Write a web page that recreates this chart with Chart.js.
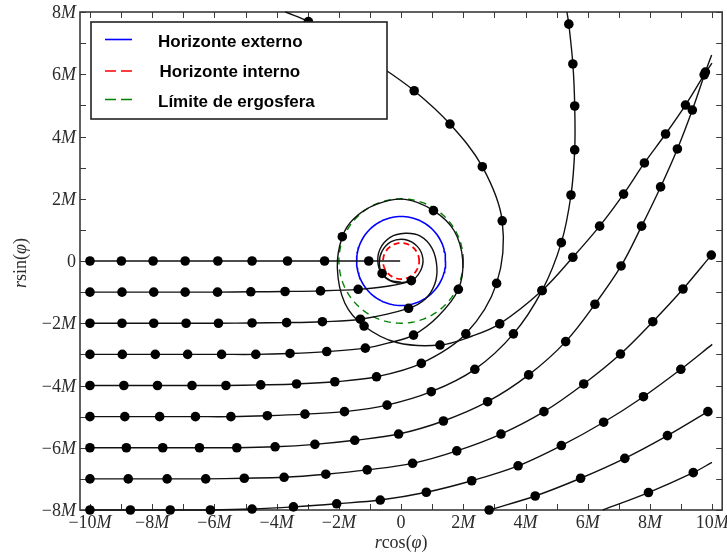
<!DOCTYPE html>
<html><head><meta charset="utf-8">
<script src="https://cdn.jsdelivr.net/npm/chart.js@4/dist/chart.umd.min.js"></script>
<style>html,body{margin:0;padding:0;background:#fff;}canvas{display:block;}</style>
</head><body>
<canvas id="c" width="727" height="555"></canvas>
<script>
// ---------- data (units of M) ----------
const legendLabels = ['Horizonte externo', 'Horizonte interno', 'Límite de ergosfera'];
const horizonRadii = [1.43, 0.58, 2.0];           // outer horizon, inner horizon, ergosphere
const xMajorTicks = [-10, -8, -6, -4, -2, 0, 2, 4, 6, 8, 10];
const yMajorTicks = [-8, -6, -4, -2, 0, 2, 4, 6, 8];
const xMinorTicks = [-10,-9,-8,-7,-6,-5,-4,-3,-2,-1,0,1,2,3,4,5,6,7,8,9,10];
const yMinorTicks = [-8,-7,-6,-5,-4,-3,-2,-1,0,1,2,3,4,5,6,7,8];
const xTitle = [['r','italic'],['cos',''],['(',''],['φ','italic'],[')','']];
const yTitle = [['r','italic'],['sin',''],['(',''],['φ','italic'],[')','']];

// ray b = 0
const ray0Dots = [[-10,0],[-8.99,0],[-7.97,0],[-6.94,0],[-5.89,0],[-4.79,0],[-3.65,0],[-2.46,0],[-1.04,0]];
const ray0Path = [[-10,0],[-8.99,0],[-7.97,0],[-6.94,0],[-5.89,0],[-4.79,0],[-3.65,0],[-2.46,0],[-1.04,0],[-0.03,0]];
// ray b = -1
const ray1Dots = [[-10,-1],[-8.97,-1],[-7.95,-1],[-6.94,-1],[-5.90,-1],[-4.83,-0.99],[-3.73,-0.98],[-2.59,-0.96],[-1.38,-0.91],[0.33,-0.63],[-0.61,-0.40]];
const ray1Path = [[-10,-1],[-8.97,-1],[-7.95,-1],[-6.94,-1],[-5.90,-1],[-4.83,-0.99],[-3.73,-0.98],[-2.59,-0.96],[-1.38,-0.91],[-0.5,-0.82],[0.33,-0.63],[0.62,-0.32],[0.70,0.08],[0.52,0.47],[0.12,0.69],[-0.32,0.62],[-0.62,0.30],[-0.70,-0.08],[-0.61,-0.40],[-0.35,-0.62],[0.0,-0.68]];
// ray b = -2
const ray2Dots = [[-10,-2],[-8.97,-2],[-7.95,-2],[-6.91,-2],[-5.87,-2],[-4.79,-1.99],[-3.68,-1.98],[-2.53,-1.95],[-1.31,-1.87],[0.24,-1.52]];
const ray2Path = [[-10,-2],[-8.97,-2],[-7.95,-2],[-6.91,-2],[-5.87,-2],[-4.79,-1.99],[-3.68,-1.98],[-2.53,-1.95],[-1.31,-1.87],[0.24,-1.52],[0.78,-1.22],[1.08,-0.75],[1.15,-0.2],[1.0,0.4],[0.62,0.8],[0.13,0.89],[-0.35,0.76],[-0.68,0.38],[-0.74,-0.1],[-0.55,-0.5],[-0.15,-0.7],[0.25,-0.66]];
// ray b = -3
const ray3Dots = [[-10,-3],[-8.96,-3],[-7.90,-3],[-6.86,-3],[-5.77,-3],[-4.67,-3],[-3.57,-2.97],[-2.39,-2.91],[-1.15,-2.80],[0.40,-2.38],[1.84,-0.91],[1.04,1.62],[-1.89,0.78],[-1.19,-2.09],[1.25,-2.70],[3.17,-2.02],[4.53,-0.95],[5.52,0.12],[6.38,1.12],[7.15,2.15],[7.82,3.15],[8.50,4.08],[9.14,5.01],[9.74,5.98]];
const ray3Path = [[-10,-3],[-8.96,-3],[-7.90,-3],[-6.86,-3],[-5.77,-3],[-4.67,-3],[-3.57,-2.97],[-2.39,-2.91],[-1.15,-2.80],[-0.40,-2.63],[0.40,-2.38],[1.20,-1.77],[1.84,-0.91],[1.98,0.03],[1.70,0.98],[1.04,1.62],[0.13,1.98],[-0.80,1.82],[-1.52,1.36],[-1.89,0.78],[-2.05,-0.22],[-1.81,-1.35],[-1.19,-2.09],[-0.14,-2.62],[1.25,-2.70],[2.29,-2.41],[3.17,-2.02],[4.53,-0.95],[5.52,0.12],[6.38,1.12],[7.15,2.15],[7.82,3.15],[8.50,4.08],[9.14,5.01],[9.74,5.98],[9.99,6.36]];
// ray b = -4
const ray4Dots = [[-10,-4],[-8.91,-4],[-7.83,-4],[-6.72,-4],[-5.63,-4],[-4.51,-3.98],[-3.36,-3.95],[-2.13,-3.88],[-0.79,-3.72],[0.65,-3.29],[2.08,-2.34],[3.07,-0.72],[3.25,1.29],[2.61,3.03],[1.57,4.40],[0.42,5.47],[-0.74,6.30],[-1.88,7.02],[-2.98,7.69]];
const ray4Path = [[-10,-4],[-8.91,-4],[-7.83,-4],[-6.72,-4],[-5.63,-4],[-4.51,-3.98],[-3.36,-3.95],[-2.13,-3.88],[-0.79,-3.72],[0.65,-3.29],[2.08,-2.34],[3.07,-0.72],[3.25,1.29],[2.61,3.03],[1.57,4.40],[0.42,5.47],[-0.74,6.30],[-1.88,7.02],[-2.98,7.69],[-3.72,8.0]];
// ray b = -5
const ray5Dots = [[-10,-5],[-8.88,-5],[-7.76,-5],[-6.61,-5],[-5.47,-5],[-4.30,-4.97],[-3.09,-4.92],[-1.82,-4.84],[-0.45,-4.63],[0.97,-4.20],[2.37,-3.48],[3.61,-2.34],[4.53,-0.95],[5.15,0.59],[5.46,2.12],[5.58,3.57],[5.58,4.98],[5.52,6.33],[5.39,7.61]];
const ray5Path = [[-10,-5],[-8.88,-5],[-7.76,-5],[-6.61,-5],[-5.47,-5],[-4.30,-4.97],[-3.09,-4.92],[-1.82,-4.84],[-0.45,-4.63],[0.97,-4.20],[2.37,-3.48],[3.61,-2.34],[4.53,-0.95],[5.15,0.59],[5.46,2.12],[5.58,3.57],[5.58,4.98],[5.52,6.33],[5.39,7.61],[5.33,8.0]];
// ray b = -6
const ray6Dots = [[-10,-6],[-8.83,-6],[-7.66,-6],[-6.48,-6],[-5.28,-6],[-4.05,-5.97],[-2.77,-5.89],[-1.49,-5.76],[-0.08,-5.56],[1.36,-5.14],[2.78,-4.52],[4.10,-3.66],[5.29,-2.59],[6.23,-1.39],[7.07,-0.16],[7.73,1.12],[8.34,2.38],[8.88,3.60],[9.36,4.85],[9.78,6.07]];
const ray6Path = [[-10,-6],[-8.83,-6],[-7.66,-6],[-6.48,-6],[-5.28,-6],[-4.05,-5.97],[-2.77,-5.89],[-1.49,-5.76],[-0.08,-5.56],[1.36,-5.14],[2.78,-4.52],[4.10,-3.66],[5.29,-2.59],[6.23,-1.39],[7.07,-0.16],[7.73,1.12],[8.34,2.38],[8.88,3.60],[9.36,4.85],[9.78,6.07],[9.98,6.62]];
// ray b = -7
const ray7Dots = [[-10,-7],[-8.77,-7],[-7.52,-7],[-6.28,-7],[-5.04,-6.98],[-3.76,-6.95],[-2.42,-6.85],[-1.09,-6.71],[0.37,-6.50],[1.79,-6.10],[3.21,-5.56],[4.59,-4.84],[5.87,-3.95],[7.05,-2.99],[8.09,-1.95],[9.06,-0.90],[9.97,0.19]];
const ray7Path = [[-10,-7],[-8.77,-7],[-7.52,-7],[-6.28,-7],[-5.04,-6.98],[-3.76,-6.95],[-2.42,-6.85],[-1.09,-6.71],[0.37,-6.50],[1.79,-6.10],[3.21,-5.56],[4.59,-4.84],[5.87,-3.95],[7.05,-2.99],[8.09,-1.95],[9.06,-0.90],[9.97,0.19]];
// ray b = -8
const ray8Dots = [[-10,-8],[-8.70,-8],[-7.42,-8],[-6.13,-8],[-4.79,-7.97],[-3.46,-7.90],[-2.07,-7.80],[-0.67,-7.68],[0.81,-7.43],[2.27,-7.06],[3.76,-6.58],[5.15,-5.93],[6.51,-5.18],[7.79,-4.36],[8.99,-3.48]];
const ray8Path = [[-10,-8],[-8.70,-8],[-7.42,-8],[-6.13,-8],[-4.79,-7.97],[-3.46,-7.90],[-2.07,-7.80],[-0.67,-7.68],[0.81,-7.43],[2.27,-7.06],[3.76,-6.58],[5.15,-5.93],[6.51,-5.18],[7.79,-4.36],[8.99,-3.48],[10.0,-2.68]];
// rays entering from below the frame
const ray9Dots = [[2.83,-8.0],[4.31,-7.55],[5.77,-6.98],[7.19,-6.34],[8.56,-5.61],[9.86,-4.84]];
const ray9Path = [[2.83,-8.0],[4.31,-7.55],[5.77,-6.98],[7.19,-6.34],[8.56,-5.61],[9.86,-4.84]];
const ray10Dots = [[7.95,-7.44],[9.39,-6.80]];
const ray10Path = [[6.48,-8.0],[7.95,-7.44],[9.39,-6.80],[9.99,-6.47]];

const rays = [
  [ray0Path, ray0Dots],[ray1Path, ray1Dots],[ray2Path, ray2Dots],[ray3Path, ray3Dots],
  [ray4Path, ray4Dots],[ray5Path, ray5Dots],[ray6Path, ray6Dots],[ray7Path, ray7Dots],
  [ray8Path, ray8Dots],[ray9Path, ray9Dots],[ray10Path, ray10Dots]
];

// ---------- styles ----------
const circleStyles = [
  {color:'#0000ff', width:1.6, dash:[]},
  {color:'#ff0000', width:1.8, dash:[6,4]},
  {color:'#008000', width:1.4, dash:[7,5]}
];
const legendDash = [[], [11,5], [11,5]];

const toXY = arr => arr.map(p => ({x:p[0], y:p[1]}));
function ring(r){
  const pts = [];
  for (let k = 0; k <= 120; k++) { const t = k * Math.PI / 60; pts.push({x:r*Math.cos(t), y:r*Math.sin(t)}); }
  return pts;
}

const datasets = [];
horizonRadii.forEach((r, i) => {
  datasets.push({
    label: legendLabels[i], data: ring(r), showLine:true, pointRadius:0,
    borderColor: circleStyles[i].color, borderWidth: circleStyles[i].width,
    borderDash: circleStyles[i].dash, tension:0, fill:false, order:2
  });
});
rays.forEach(([path, dots]) => {
  datasets.push({data: toXY(path), showLine:true, pointRadius:0, borderColor:'#111',
    borderWidth:1.4, tension:0.35, fill:false, order:1, clip:1});
  datasets.push({data: toXY(dots), showLine:false, pointRadius:4.8, pointHoverRadius:4.8,
    backgroundColor:'#000', borderWidth:0, order:0, clip:false});
});

const SERIF = '"Liberation Serif", "DejaVu Serif", serif';
function drawRich(ctx, parts, size) {
  let w = 0;
  parts.forEach(([t, st]) => { ctx.font = (st ? st + ' ' : '') + size + 'px ' + SERIF; w += ctx.measureText(t).width; });
  return w;
}
function fillRich(ctx, parts, size, x, y) {
  let cx = x;
  parts.forEach(([t, st]) => { ctx.font = (st ? st + ' ' : '') + size + 'px ' + SERIF; ctx.fillText(t, cx, y); cx += ctx.measureText(t).width; });
}
function tickParts(v) {
  if (v === 0) return [['0','']];
  return [[(v < 0 ? '\u2212' : '') + Math.abs(v), ''], ['M','italic']];
}

const frameAndTicks = {
  id:'frameAndTicks',
  beforeDatasetsDraw(chart) {
    const {ctx, chartArea:{left, right, top, bottom}, scales:{x, y}} = chart;
    ctx.save();
    ctx.strokeStyle = '#3a3a3a'; ctx.lineWidth = 1;
    const L = 6;
    ctx.beginPath();
    xMinorTicks.forEach(v => {
      const p = Math.round(x.getPixelForValue(v)) + 0.5;
      ctx.moveTo(p, bottom); ctx.lineTo(p, bottom - L);
      ctx.moveTo(p, top); ctx.lineTo(p, top + L);
    });
    yMinorTicks.forEach(v => {
      const p = Math.round(y.getPixelForValue(v)) + 0.5;
      ctx.moveTo(left, p); ctx.lineTo(left + L, p);
      ctx.moveTo(right, p); ctx.lineTo(right - L, p);
    });
    ctx.stroke();
    ctx.lineWidth = 1.6; ctx.strokeStyle = '#3a3a3a';
    ctx.strokeRect(left, top, right - left, bottom - top);
    ctx.restore();
  },
  afterDraw(chart) {
    const {ctx, chartArea:{left, right, top, bottom}, scales:{x, y}} = chart;
    ctx.save();
    ctx.fillStyle = '#2b2b2b'; ctx.textAlign = 'left'; ctx.textBaseline = 'alphabetic';
    const S = 18;
    xMajorTicks.forEach(v => {
      const parts = tickParts(v); const w = drawRich(ctx, parts, S);
      fillRich(ctx, parts, S, x.getPixelForValue(v) - w / 2, bottom + 18);
    });
    yMajorTicks.forEach(v => {
      const parts = tickParts(v); const w = drawRich(ctx, parts, S);
      fillRich(ctx, parts, S, left - 4 - w, y.getPixelForValue(v) + 6);
    });
    const cx = (left + right) / 2;
    let w = drawRich(ctx, xTitle, S);
    fillRich(ctx, xTitle, S, cx - w / 2, bottom + 38);
    ctx.translate(26, (top + bottom) / 2 + 2);
    ctx.rotate(-Math.PI / 2);
    w = drawRich(ctx, yTitle, S);
    fillRich(ctx, yTitle, S, -w / 2, 0);
    ctx.restore();
  }
};

const boxLegend = {
  id:'boxLegend',
  afterDatasetsDraw(chart) {
    const {ctx, chartArea:{left, top}} = chart;
    const bx = left + 11, by = top + 10, bw = 296, bh = 97;
    ctx.save();
    ctx.fillStyle = '#fff'; ctx.fillRect(bx, by, bw, bh);
    ctx.strokeStyle = '#222'; ctx.lineWidth = 1.6; ctx.strokeRect(bx, by, bw, bh);
    const rowY = [39.5, 71, 99.5];
    const textX = [158, 159.5, 158];
    const baseY = [47, 77, 107];
    legendLabels.forEach((lab, i) => {
      ctx.beginPath();
      ctx.setLineDash(legendDash[i]);
      ctx.strokeStyle = circleStyles[i].color; ctx.lineWidth = 1.6;
      ctx.moveTo(left + 25, rowY[i]); ctx.lineTo(left + 52, rowY[i]); ctx.stroke();
      ctx.setLineDash([]);
      ctx.fillStyle = '#000'; ctx.font = 'bold 17px "Liberation Sans", Arial, sans-serif';
      ctx.textAlign = 'left'; ctx.textBaseline = 'alphabetic';
      ctx.fillText(lab, textX[i], baseY[i]);
    });
    ctx.restore();
  }
};

new Chart(document.getElementById('c'), {
  type: 'scatter',
  data: { datasets },
  options: {
    responsive: false, animation: false, devicePixelRatio: 1,
    layout: { padding: { left: 80, right: 2, top: 12, bottom: 45 } },
    plugins: { legend: { display: false }, tooltip: { enabled: false } },
    events: [],
    scales: {
      x: { type: 'linear', display: false, min: -10.32, max: 10.32 },
      y: { type: 'linear', display: false, min: -8, max: 8 }
    }
  },
  plugins: [frameAndTicks, boxLegend]
});
</script>
</body></html>
